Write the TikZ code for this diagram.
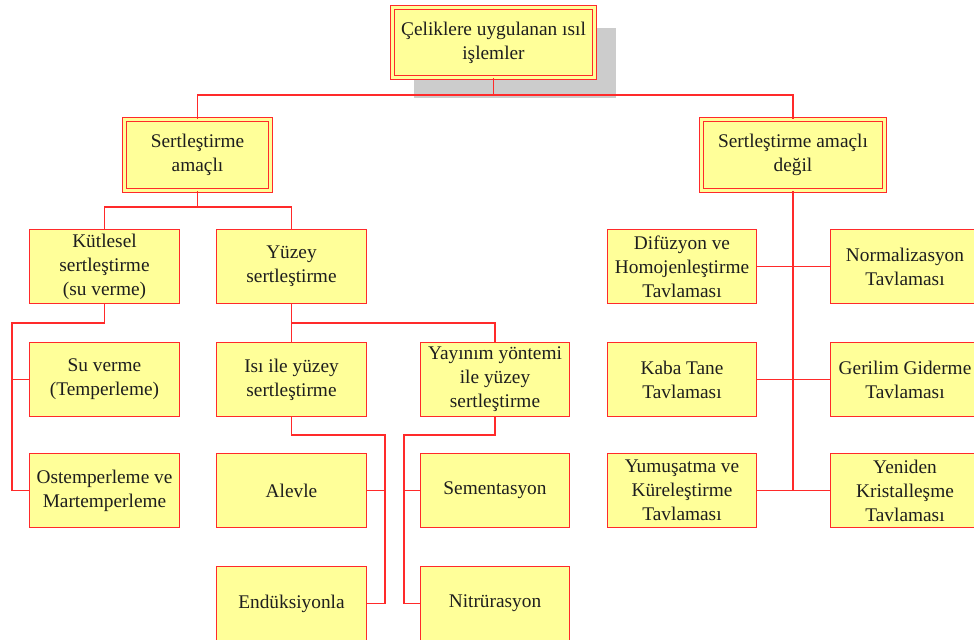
\documentclass[tikz,border=0pt]{standalone}
\usepackage{fontspec}
\setmainfont{Liberation Serif}
\usetikzlibrary{shadows}
\definecolor{boxyellow}{HTML}{FFFF99}
\definecolor{boxred}{HTML}{FF2A2A}
\definecolor{shadowgray}{HTML}{CCCCCC}
\definecolor{txt}{HTML}{1E1E1E}
\tikzset{
  plainbox/.style={draw=boxred, line width=0.9pt, fill=boxyellow, text=txt,
    align=center, inner sep=2pt, minimum width=112pt, minimum height=56pt,
    font=\fontsize{14.5}{18}\selectfont},
  mainbox/.style={plainbox, line width=0.75pt, double=boxyellow, double distance=2.25pt,
    minimum width=109.5pt, minimum height=53.25pt},
  conn/.style={draw=boxred, line width=0.9pt}
}
\begin{document}
\begin{tikzpicture}[x=0.75pt,y=-0.75pt]
\useasboundingbox (0,0) rectangle (974,639);
\clip (0,0) rectangle (974,639);
% level 0
\node[mainbox, minimum width=151.5pt, minimum height=52.5pt,
  drop shadow={shadow xshift=15.75pt, shadow yshift=-15pt, fill=shadowgray, opacity=1}]
  (top) at (493.5,42.5) {Çeliklere uygulanan ısıl\\işlemler};
% level 1
\node[mainbox] (sa) at (197.5,155) {Sertleştirme\\amaçlı};
\node[mainbox, minimum width=137.25pt] (sd) at (793,155) {Sertleştirme amaçlı\\değil};
% left subtree
\node[plainbox] (kut) at (104.5,266.5) {Kütlesel\\sertleştirme\\(su verme)};
\node[plainbox] (yuz) at (291.5,266.5) {Yüzey\\sertleştirme};
\node[plainbox] (su) at (104.5,379.5) {Su verme\\(Temperleme)};
\node[plainbox] (isi) at (291.5,379.5) {Isı ile yüzey\\sertleştirme};
\node[plainbox] (yay) at (495,379.5) {Yayınım yöntemi\\ile yüzey\\sertleştirme};
\node[plainbox] (ost) at (104.5,490.5) {Ostemperleme ve\\Martemperleme};
\node[plainbox] (alev) at (291.5,490.5) {Alevle};
\node[plainbox] (end) at (291.5,603.5) {Endüksiyonla};
\node[plainbox] (sem) at (495,490.5) {Sementasyon};
\node[plainbox] (nit) at (495,603.5) {Nitrürasyon};
% right subtree
\node[plainbox] (dif) at (682,266.5) {Difüzyon ve\\Homojenleştirme\\Tavlaması};
\node[plainbox] (nor) at (905,266.5) {Normalizasyon\\Tavlaması};
\node[plainbox] (kaba) at (682,379.5) {Kaba Tane\\Tavlaması};
\node[plainbox] (ger) at (905,379.5) {Gerilim Giderme\\Tavlaması};
\node[plainbox] (yum) at (682,490.5) {Yumuşatma ve\\Küreleştirme\\Tavlaması};
\node[plainbox] (yen) at (905,490.5) {Yeniden\\Kristalleşme\\Tavlaması};
% helper coordinates
\coordinate (h1) at (0,95);
\coordinate (h2) at (0,207);
\coordinate (k1) at (12,323);
\coordinate (i1) at (385,435);
\coordinate (y1) at (404,435);
% connectors
\draw[conn] (top.south) -- (top.south |- h1);
\draw[conn] (sa.north) |- (sd.north |- h1) -- (sd.north);
\draw[conn] (sa.south) -- (sa.south |- h2);
\draw[conn] (kut.north) |- (yuz.north |- h2) -- (yuz.north);
\draw[conn] (kut.south) |- (k1) |- (ost.west);
\draw[conn] (k1 |- su.west) -- (su.west);
\draw[conn] (yuz.south) -- (isi.north);
\draw[conn] (yuz.south |- k1) -| (yay.north);
\draw[conn] (isi.south) |- (i1) |- (end.east);
\draw[conn] (i1 |- alev.east) -- (alev.east);
\draw[conn] (yay.south) |- (y1) |- (nit.west);
\draw[conn] (y1 |- sem.west) -- (sem.west);
\draw[conn] (sd.south) -- (sd.south |- yum.east);
\draw[conn] (dif.east) -- (nor.west);
\draw[conn] (kaba.east) -- (ger.west);
\draw[conn] (yum.east) -- (yen.west);
\end{tikzpicture}
\end{document}
